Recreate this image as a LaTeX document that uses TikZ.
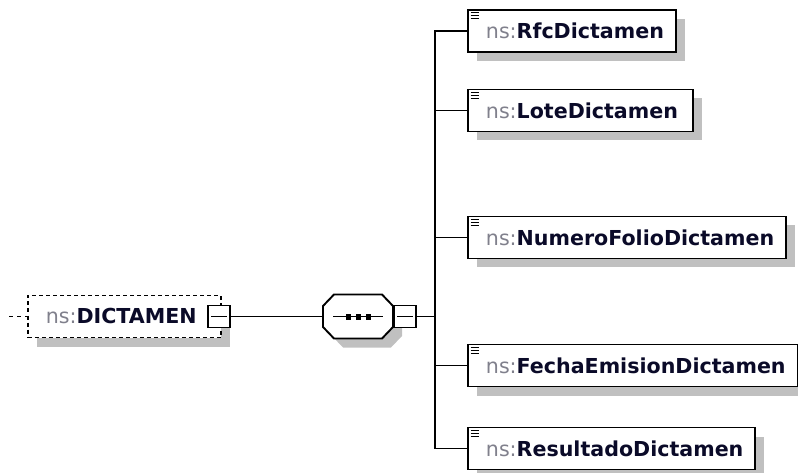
\documentclass[tikz,border=0pt]{standalone}
\usepackage{fontspec}
\setmainfont{DejaVu Sans}
\usetikzlibrary{shadows}
\definecolor{nsgray}{HTML}{80808C}
\definecolor{namecol}{HTML}{0A0A28}
\definecolor{shadowgray}{HTML}{C0C0C0}
\newcommand{\elname}[1]{\hspace*{18pt}\textcolor{nsgray}{ns:}\textcolor{namecol}{\bfseries #1}}
\begin{document}
\begin{tikzpicture}[x=1pt,y=-1pt,
  shad/.style={drop shadow={shadow xshift=9pt,shadow yshift=-9pt,fill=shadowgray,opacity=1}},
  elem/.style={draw=black,line width=1.9pt,fill=white,minimum height=42pt,inner xsep=0pt,inner ysep=0pt,
    anchor=west,align=left,font=\fontsize{20.6}{24}\selectfont,shad},
  dictbox/.style={elem,dashed,dash pattern=on 4pt off 3pt,line width=1.7pt},
  seqshape/.style={draw=black,line width=1.9pt,fill=white,shad},
  minusbox/.style={draw=black,line width=1.8pt,fill=white,minimum width=22pt,minimum height=22pt,inner sep=0pt},
  conn/.style={line width=1.8pt,draw=black},
  icon/.style={line width=1pt,draw=black}]
\useasboundingbox (0,0) rectangle (798,473);

% root element
\coordinate (in) at (9,316.5);
\node[dictbox,text width=193pt] (dict) at (27,316.5) {\elname{DICTAMEN}};
\draw[conn,dashed,dash pattern=on 4pt off 4pt,line width=1.5pt] (in) -- (dict.west);
\node[minusbox] (m1) at (219,316.5) {};
\draw[line width=1.2pt] ([xshift=4pt]m1.west) -- ([xshift=-4pt]m1.east);

% sequence compositor
\coordinate (seqW) at (323,316.5);
\coordinate (seqE) at (393,316.5);
\path[seqshape] (323,306) -- (334,294.5) -- (382,294.5) -- (393,306) -- (393,327) -- (382,338.5)
  -- (334,338.5) -- (323,327) -- cycle;
\coordinate (seqC) at (358,316.5);
\draw[line width=1.4pt] ([xshift=10pt]seqW) -- ([xshift=-10pt]seqE);
\foreach \dx in {-10,0,10}
  \fill[black] ([xshift=\dx pt]seqC) +(-2.5,-3) rectangle +(2.5,3);
\node[minusbox] (m2) at (405,316.5) {};
\draw[line width=1.2pt] ([xshift=4pt]m2.west) -- ([xshift=-4pt]m2.east);

\draw[conn] (m1.east) -- (seqW);

% children
\node[elem,text width=208pt] (rfc) at (467,31) {\elname{RfcDictamen}};
\node[elem,text width=225pt] (lote) at (467,110.5) {\elname{LoteDictamen}};
\node[elem,text width=318pt] (num) at (467,237.5) {\elname{NumeroFolioDictamen}};
\node[elem,text width=330pt] (fecha) at (467,365.5) {\elname{FechaEmisionDictamen}};
\node[elem,text width=287pt] (res) at (467,448.5) {\elname{ResultadoDictamen}};

\coordinate (bus) at (435,316.5);
\draw[conn] (m2.east) -- (bus);
\foreach \n in {rfc,lote,num,fecha,res}{
  \draw[conn] (bus) |- (\n.west);
  \foreach \k in {3.5,6.5,9.5}
    \draw[icon] ([xshift=3.5pt,yshift=-\k pt]\n.north west) -- ++(8,0);
}
\end{tikzpicture}
\end{document}
